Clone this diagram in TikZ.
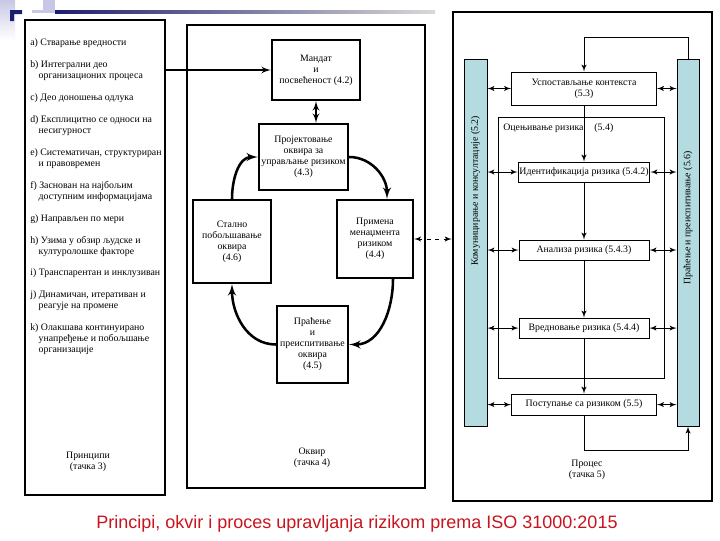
\documentclass[tikz,border=0pt]{standalone}
\usepackage{fontspec}
\setmainfont{Liberation Serif}
\newfontfamily\captionfont{Liberation Sans}
\usetikzlibrary{arrows,positioning,shapes}
\definecolor{barblue}{RGB}{180,219,224}
\definecolor{slidenavy}{RGB}{30,30,110}
\definecolor{slidelav}{RGB}{200,200,230}
\definecolor{captionred}{RGB}{200,20,30}
\tikzset{
    panel/.style = {draw, rectangle, line width=1.8pt, inner sep=0pt},
    block/.style = {draw, rectangle, line width=1.6pt, align=center, inner sep=1pt},
    pblock/.style = {draw, rectangle, line width=0.7pt, align=center, inner sep=1pt},
    bar/.style = {draw, rectangle, fill=barblue, line width=0.7pt, inner sep=0pt},
    txt/.style = {align=center, inner sep=0pt},
    cyc/.style = {draw, ->, line width=1.8pt},
    flow/.style = {draw, ->, line width=0.7pt},
    link/.style = {draw, <->, line width=0.7pt}
}

\begin{document}
\begin{tikzpicture}[x=0.025cm, y=-0.025cm, >=latex', node distance=2cm,
    every node/.style={font=\fontsize{7}{7.8}\selectfont}]
    \useasboundingbox (0,0) rectangle (720,540);
    % slide decoration
    \shade [top color=slidelav, bottom color=white] (0,0) rectangle (15,40);
    \fill [slidelav] (43,0) rectangle (55,12);
    \fill [slidelav] (32,10) rectangle (55,13);
    \shade [left color=slidenavy, right color=black!15] (55,10) rectangle (435,13);
    \fill [slidenavy] (10,10) rectangle (22,14) (10,10) rectangle (14,21);

    % principles (3)
    \node [panel, minimum width=3.5cm, minimum height=11.875cm, name=principles] at (95,257.5) {};
    \node [anchor=north west, align=left, inner sep=0pt, name=plist] at (30,38.5) {%
        a) Стварање вредности\\[7.8pt]
        b) Интегрални део\\\hspace*{6pt}организационих процеса\\[7.8pt]
        c) Део доношења одлука\\[7.8pt]
        d) Експлицитно се односи на\\\hspace*{6pt}несигурност\\[7.8pt]
        e) Систематичан, структуриран\\\hspace*{6pt}и правовремен\\[7.8pt]
        f) Заснован на најбољим\\\hspace*{6pt}доступним информацијама\\[7.8pt]
        g) Направљен по мери\\[7.8pt]
        h) Узима у обзир људске и\\\hspace*{6pt}културолошке факторе\\[7.8pt]
        i) Транспарентан и инклузиван\\[7.8pt]
        j) Динамичан, итеративан и\\\hspace*{6pt}реагује на промене\\[7.8pt]
        k) Олакшава континуирано\\\hspace*{6pt}унапређење и побољшање\\\hspace*{6pt}организације};
    \node [txt, name=plabel] at (88,462) {Принципи\\(тачка 3)};

    % framework (4)
    \node [panel, line width=1.3pt, minimum width=5.95cm, minimum height=11.575cm, name=framework] at (306,256.5) {};
    \node [block, minimum width=2.2cm, minimum height=1.5cm, name=mandate] at (316,70) {Мандат\\и\\посвећеност (4.2)};
    \node [block, minimum width=2.225cm, minimum height=1.65cm, name=design] at (303.5,157) {Пројектовање\\оквира за\\управљање ризиком\\(4.3)};
    \node [block, minimum width=1.9cm, minimum height=1.95cm, name=implement] at (375,239) {Примена\\менаџмента\\ризиком\\(4.4)};
    \node [block, minimum width=1.775cm, minimum height=1.925cm, name=monitor] at (312.5,344.5) {Праћење\\и\\преиспитивање\\оквира\\(4.5)};
    \node [block, minimum width=1.95cm, minimum height=2.075cm, name=improve] at (232,241.5) {Стално\\побољшавање\\оквира\\(4.6)};
    \node [txt, name=flabel] at (312,457.5) {Оквир\\(тачка 4)};

    \draw [->, line width=1.3pt] (principles.east |- mandate.west) -- (mandate.west);
    \draw [<->, line width=1.3pt] (mandate.south) -- (mandate.south |- design.north);
    \draw [cyc] (design.east) to[out=0, in=90] ([xshift=0.3cm]implement.north);
    \draw [cyc] ([xshift=0.45cm]implement.south) to[out=-90, in=0] (monitor.east);
    \draw [cyc] (monitor.west) to[out=180, in=-90] (improve.south);
    \draw [cyc] (improve.north) to[out=90, in=180] (design.west);

    % process (5)
    \node [panel, minimum width=6.475cm, minimum height=12.225cm, name=process] at (582.5,256.5) {};
    \draw [<->, dashed, line width=0.7pt] (implement.east) -- (implement.east -| process.west);
    \node [bar, minimum width=0.575cm, minimum height=9.15cm, name=commbar] at (475.5,243) {};
    \node [bar, minimum width=0.55cm, minimum height=9.15cm, name=monbar] at (688,243) {};
    \node [rotate=90, name=commtext] at (475.5,191) {Комуницирање и консултације (5.2)};
    \node [rotate=90, name=montext] at (688,218) {Праћење и преиспитивање (5.6)};
    \node [draw, line width=0.7pt, minimum width=4.125cm, minimum height=6.5cm, name=assess] at (581.5,248) {};
    \node [anchor=west, inner sep=0pt, name=atext] at (503,128) {Оцењивање ризика\hspace{1.1em}(5.4)};

    \node [pblock, minimum width=3.625cm, minimum height=0.825cm, name=context] at (584,88.5) {Успостављање контекста\\(5.3)};
    \node [pblock, minimum width=3.225cm, minimum height=0.5cm, below of=context, node distance=2.0875cm, name=identify] {Идентификација ризика (5.4.2)};
    \node [pblock, minimum width=3.25cm, minimum height=0.5cm, below of=identify, node distance=1.95cm, name=analyse] {Анализа ризика (5.4.3)};
    \node [pblock, minimum width=3.25cm, minimum height=0.5cm, below of=analyse, node distance=1.95cm, name=evaluate] {Вредновање ризика (5.4.4)};
    \node [pblock, minimum width=3.625cm, minimum height=0.525cm, below of=evaluate, node distance=1.9125cm, name=treat] {Поступање са ризиком (5.5)};
    \node [txt, name=prlabel] at (587,470) {Процес\\(тачка 5)};

    \draw [flow] (context.south) -- (identify.north);
    \draw [flow] (identify.south) -- (analyse.north);
    \draw [flow] (analyse.south) -- (evaluate.north);
    \draw [flow] (evaluate.south) -- (treat.north);
    \foreach \b in {context,identify,analyse,evaluate,treat}{
        \draw [link] (commbar.east |- \b.west) -- (\b.west);
        \draw [link] (\b.east) -- (monbar.west |- \b.east);
    }
    \coordinate (looptop) at (584,37);
    \coordinate (loopbot) at (584,450);
    \draw [flow] (monbar.north) |- (looptop) -- (context.north);
    \draw [flow] (treat.south) -- (loopbot) -| (monbar.south);

    % caption
    \node [font=\captionfont\fontsize{12.8}{14}\selectfont, text=captionred, name=caption] at (357,524) {Principi, okvir i proces upravljanja rizikom prema ISO 31000:2015};
\end{tikzpicture}
\end{document}
